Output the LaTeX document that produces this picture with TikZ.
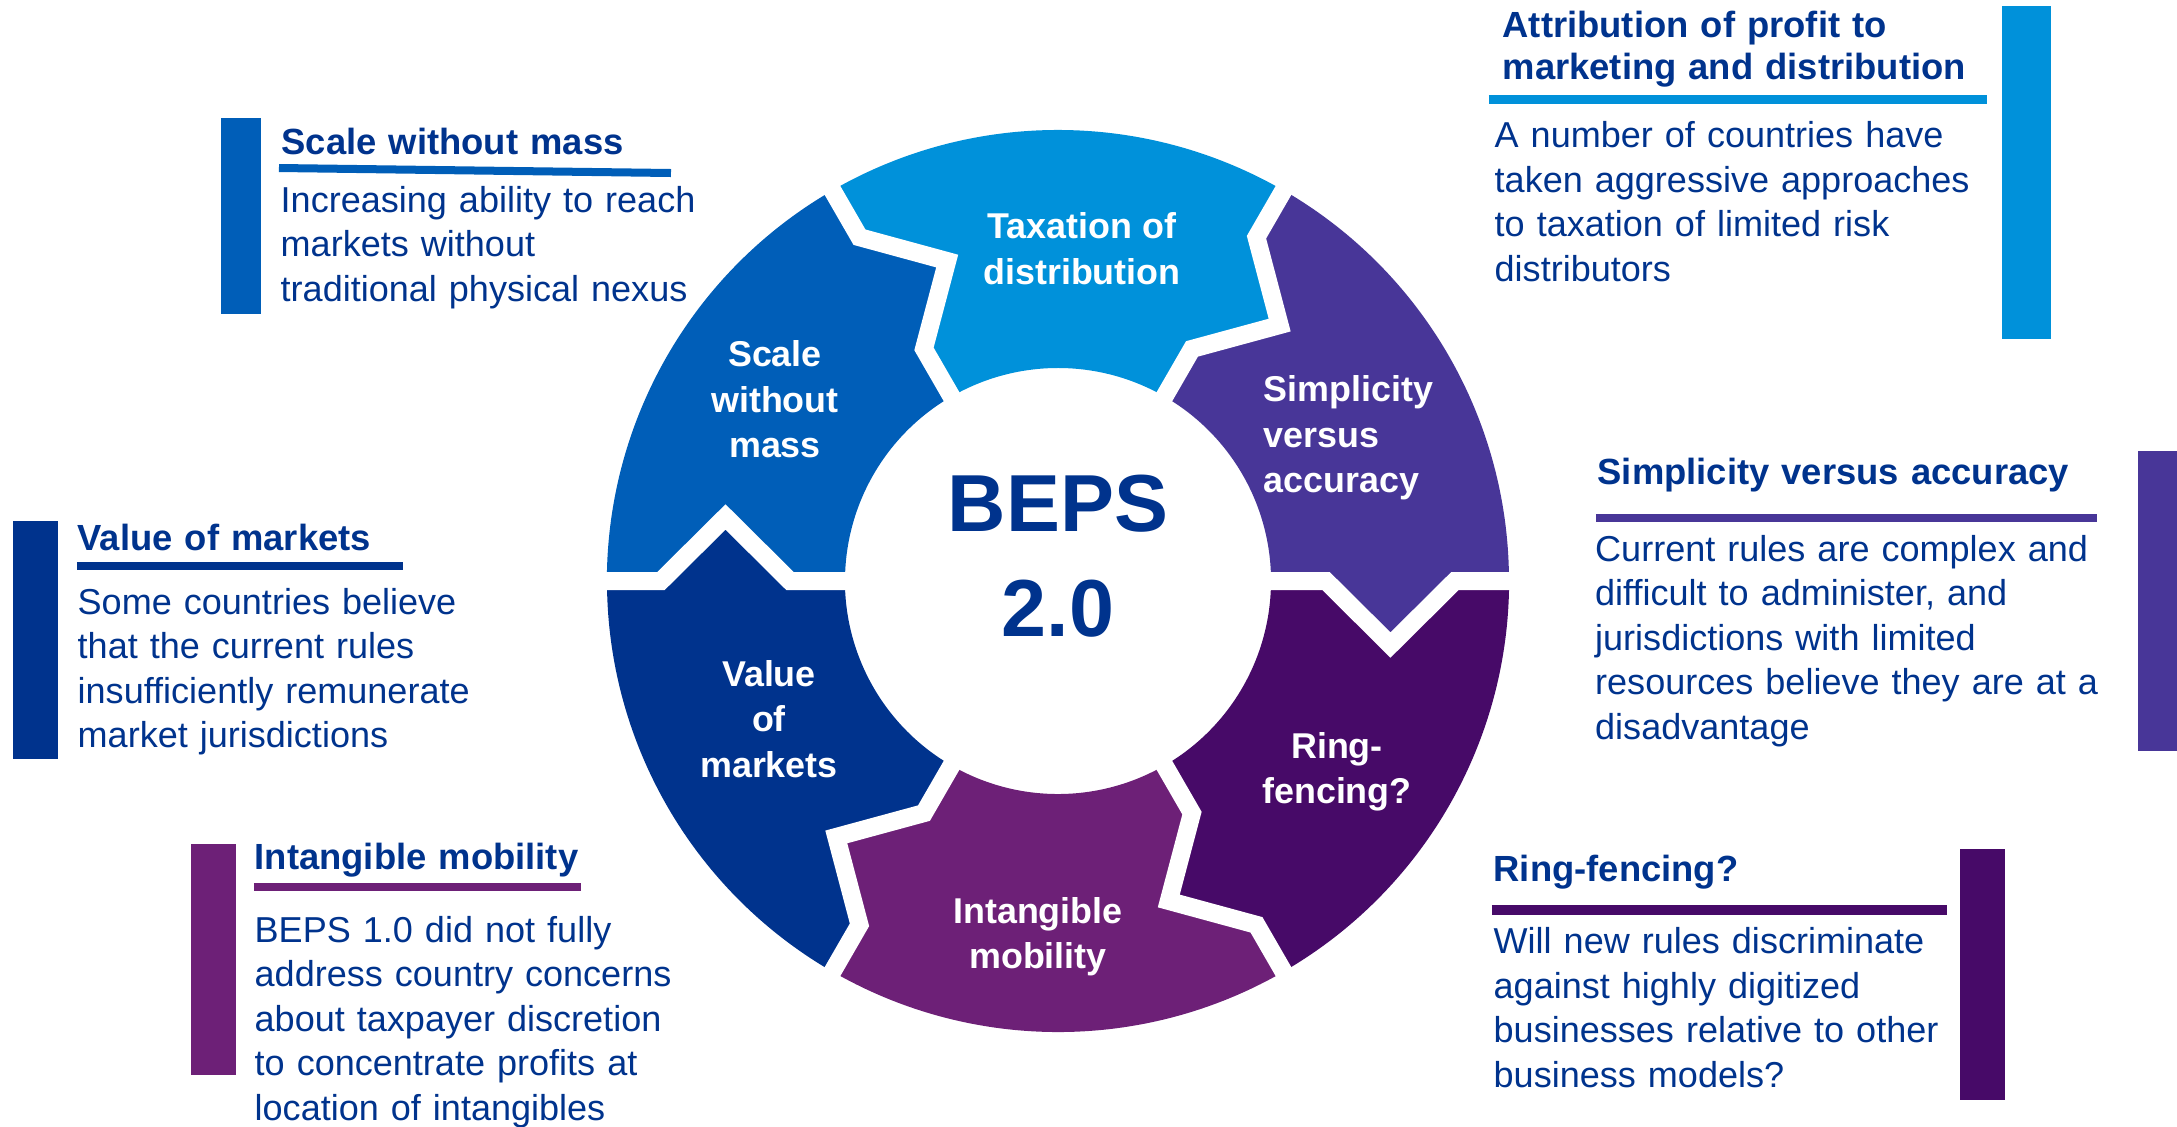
\documentclass[tikz,border=0pt]{standalone}
\usepackage{fontspec}
\setmainfont{Liberation Sans}
\usepackage{xcolor}
\definecolor{KDark}{HTML}{00338D}
\definecolor{KMid}{HTML}{005EB8}
\definecolor{KLight}{HTML}{0091DA}
\definecolor{KViolet}{HTML}{483698}
\definecolor{KPurple}{HTML}{470A68}
\definecolor{KPlum}{HTML}{6D2077}
\usepackage{tikz}
\tikzstyle{Gap}=[draw=white,line width=0.18cm,line join=miter]
\tikzstyle{Label}=[text=white,align=center,inner sep=0pt,
font=\bfseries\fontsize{10.2}{12.9}\selectfont]
\tikzstyle{Core}=[text=KDark,align=center,inner sep=0pt,
font=\bfseries\fontsize{23}{30}\selectfont]
\tikzstyle{Head}=[text=KDark,anchor=base west,inner sep=0pt,text width=6cm,
align=left,font=\bfseries\fontsize{10.35}{12.2}\selectfont]
\tikzstyle{Body}=[text=KDark,anchor=base west,inner sep=0pt,text width=6cm,
align=left,font=\fontsize{10.25}{12.7}\selectfont]
\tikzstyle{Rule}=[line width=0.08cm]
% one piece of the ring: tip at its start angle, notch at its end angle
\newcommand{\RingPart}[2]{%
  \fill[#2](#1:213)--(#1:268)--({#1-10.9}:338.6)--(#1:397)--(#1:451)
    arc[start angle=#1,end angle={#1+60},radius=4.51cm]
    --({#1+60}:397)--({#1+49.1}:338.6)--({#1+60}:268)--({#1+60}:213)
    arc[start angle={#1+60},end angle=#1,radius=2.13cm]--cycle;}
\newcommand{\RingGap}[1]{%
  \draw[Gap](#1:205)--(#1:268)--({#1-10.9}:338.6)--(#1:397)--(#1:470);}

\begin{document}
\begin{tikzpicture}[x=0.01cm,y=0.01cm]
    \useasboundingbox(-1058,-545)rectangle(1119,581);
    \RingPart{0}{KViolet}
    \RingPart{60}{KLight}
    \RingPart{120}{KMid}
    \RingPart{180}{KDark}
    \RingPart{240}{KPlum}
    \RingPart{300}{KPurple}
    \RingGap{0}
    \RingGap{60}
    \RingGap{120}
    \RingGap{180}
    \RingGap{240}
    \RingGap{300}
    \node[Label](tax)at(24,332.5){Taxation of\\distribution};
    \node[Label](scale)at(-283,181.5){Scale\\without\\mass};
    \node[Label,align=left,anchor=west](simp)at(205,143)
        {Simplicity\\versus\\accuracy};
    \node[Label](ring)at(279,-191){Ring-\\fencing?};
    \node[Label](intang)at(-20,-356){Intangible\\mobility};
    \node[Label](value)at(-289,-138){Value\\of\\markets};
    \node[Core](beps)at(0,25){BEPS\\2.0};
    % upper left
    \fill[KMid](-837,267)rectangle(-797,463);
    \node[Head](hscale)at(-777,427){Scale without mass};
    \draw[Rule,KMid](-779,413)--(-387,408);
    \node[Body](bscale)at(-778,369)
        {Increasing ability to reach\\markets without\\traditional physical nexus};
    % left
    \fill[KDark](-1045,-178)rectangle(-1000,60);
    \node[Head](hvalue)at(-981,31){Value of markets};
    \draw[Rule,KDark](-981,15.5)--(-655,15.5);
    \node[Body](bvalue)at(-981,-33){Some countries believe\\that the current
        rules\\insufficiently remunerate\\market jurisdictions};
    % lower left
    \fill[KPlum](-867,-494)rectangle(-822,-263);
    \node[Head](hintang)at(-804,-288){Intangible mobility};
    \draw[Rule,KPlum](-804,-306)--(-477,-306);
    \node[Body](bintang)at(-804,-361){BEPS 1.0 did not fully\\address country
        concerns\\about taxpayer discretion\\to concentrate profits
        at\\location of intangibles};
    % upper right
    \fill[KLight](944,242)rectangle(993,575);
    \node[Head](hattr)at(444,544){Attribution of profit to\\marketing and
        distribution};
    \draw[Rule,KLight,line width=0.09cm](431,482)--(929,482);
    \node[Body](battr)at(436,433.5){A number of countries have\\taken aggressive
        approaches\\to taxation of limited risk\\distributors};
    % right
    \fill[KViolet](1080,-170)rectangle(1130,130);
    \node[Head](hsimp)at(539,97){Simplicity versus accuracy};
    \draw[Rule,KViolet](538,63.5)--(1039,63.5);
    \node[Body](bsimp)at(536.5,20){Current rules are complex and\\difficult to
        administer, and\\jurisdictions with limited\\resources believe they
        are at a\\disadvantage};
    % lower right
    \fill[KPurple](902,-519)rectangle(947,-268);
    \node[Head](hring)at(435,-300){Ring-fencing?};
    \draw[Rule,KPurple,line width=0.1cm](434,-329)--(889,-329);
    \node[Body](bring)at(435,-372.5){Will new rules discriminate\\against highly
        digitized\\businesses relative to other\\business models?};
\end{tikzpicture}
\end{document}
